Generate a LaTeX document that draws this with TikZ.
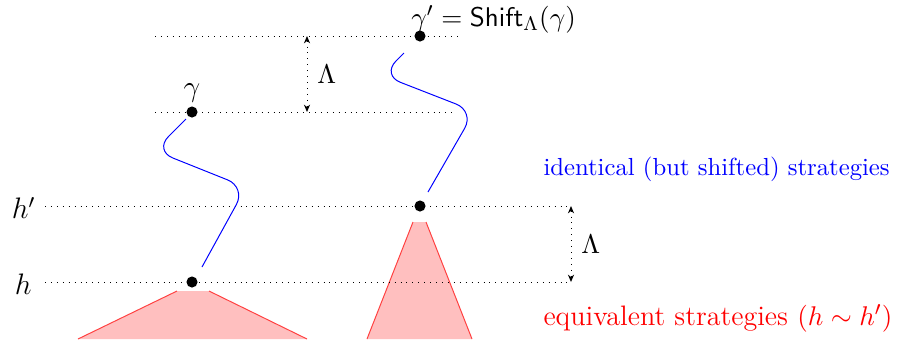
\documentclass[tikz,border=0pt]{standalone}
\usetikzlibrary{arrows.meta}
\begin{document}
\begin{tikzpicture}[x=0.405pt,y=-0.405pt,
  guide/.style={dotted},
  pt/.style={circle,fill=black,inner sep=0pt,minimum size=4.5pt},
  strat/.style={blue,rounded corners=8pt},
  cone/.style={fill=red!25,draw=none},
  coneedge/.style={red!75},
  gap/.style={dotted,{Stealth[length=3pt,width=2.5pt]}-{Stealth[length=3pt,width=2.5pt]}},
  lbl/.style={inner sep=0pt},
  elf/.style={font=\fontsize{11}{13}\selectfont},
  redf/.style={font=\fontsize{11.4}{13.5}\selectfont}]
\useasboundingbox (0,0) rectangle (918,349);
% cones
\fill[cone] (177,291) -- (209,291) -- (307,339) -- (78,339) -- cycle;
\draw[coneedge] (177,291) -- (78,339) (209,291) -- (307,339);
\fill[cone] (413,222) -- (426,222) -- (472,339) -- (367,339) -- cycle;
\draw[coneedge] (413,222) -- (367,339) (426,222) -- (472,339);
% guide lines
\coordinate (t1) at (155,36); \coordinate (t2) at (460,36);
\coordinate (s1) at (155,112); \coordinate (s2) at (457,112);
\coordinate (hp1) at (45,206); \coordinate (hp2) at (570,206);
\coordinate (h1) at (45,282); \coordinate (h2) at (570,282);
\draw[guide] (t1) -- (t2);
\draw[guide] (s1) -- (s2);
\draw[guide] (hp1) -- (hp2);
\draw[guide] (h1) -- (h2);
% points
\node[pt] (gp) at (420,36) {};
\node[pt] (g) at (192,112) {};
\node[pt] (hp) at (420,206) {};
\node[pt] (h) at (192,282) {};
% labels
\node[lbl,anchor=base west,elf] (gplbl) at (411,26) {$\gamma' = \mathsf{Shift}_\Lambda(\gamma)$};
\node[lbl,anchor=base,font=\large] (glbl) at (192,96) {$\gamma$};
\node[lbl,anchor=east,font=\large] (hplbl) at (36,208) {$h'$};
\node[lbl,anchor=east,font=\large] (hlbl) at (32,284) {$h$};
% gaps
\coordinate (a1) at (307,36); \coordinate (a2) at (307,112);
\draw[gap] (a1) -- (a2) node[midway,right=4pt,lbl,elf] (L1) {$\Lambda$};
\coordinate (b1) at (571,206); \coordinate (b2) at (571,282);
\draw[gap] (b1) -- (b2) node[midway,right=4pt,lbl,elf] (L2) {$\Lambda$};
% strategies
\draw[strat] (186,119) -- (154.4,150.6) -- (245.9,187.2) -- (202,267);
\draw[strat] (404,53) -- (381.9,75.1) -- (474.5,111.2) -- (428,192);
% texts
\node[lbl,anchor=base west,text=blue] (t_id) at (543,175) {identical (but shifted) strategies};
\node[lbl,anchor=base west,text=red,redf] (t_eq) at (543,325) {equivalent strategies $(h\sim h')$};
\end{tikzpicture}
\end{document}
